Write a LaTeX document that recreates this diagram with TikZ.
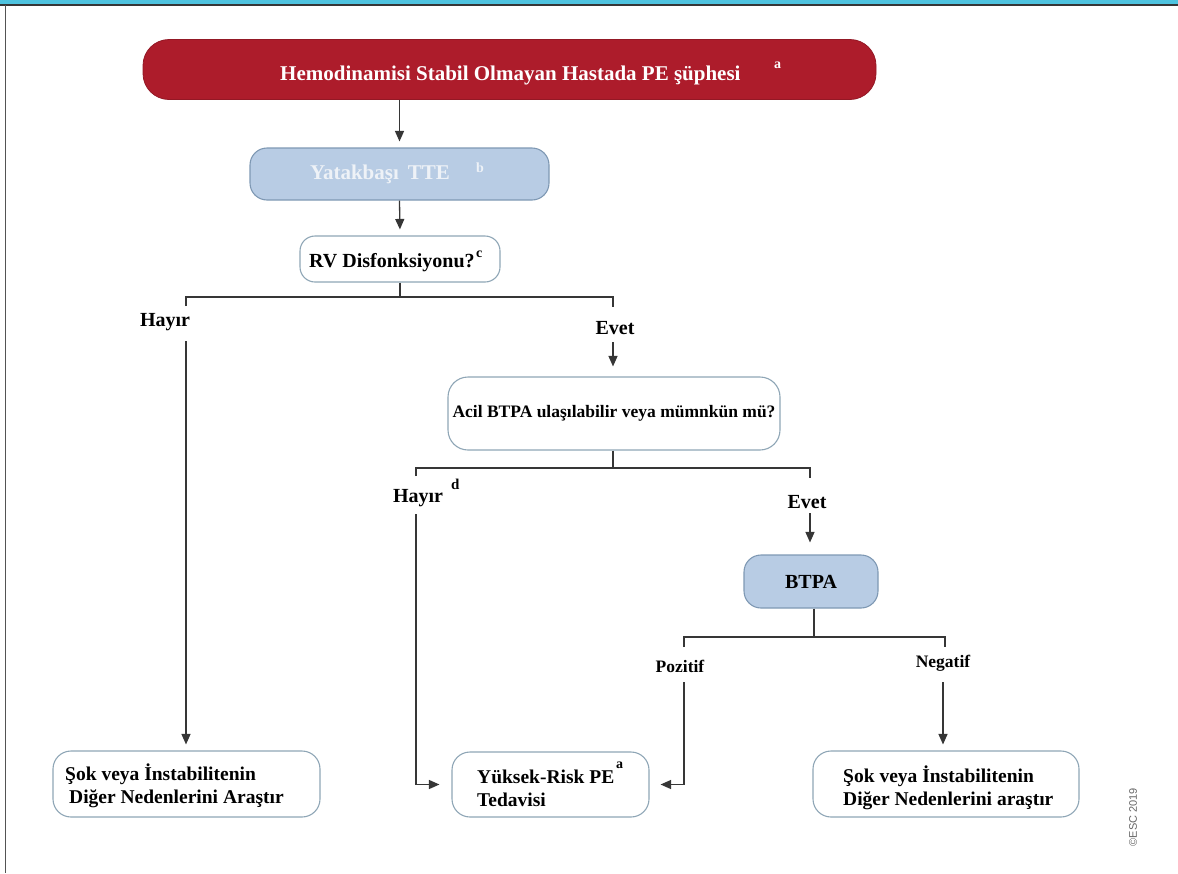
\documentclass[tikz,border=0pt]{standalone}
\usepackage{fontspec}
\setmainfont{LiberationSerif}[Extension=.ttf, UprightFont=*-Regular, BoldFont=*-Bold, ItalicFont=*-Italic, BoldItalicFont=*-BoldItalic]
\newfontfamily\escfont{Liberation Sans}
\usetikzlibrary{arrows.meta}
\definecolor{escred}{HTML}{AD1C2B}
\definecolor{boxblue}{HTML}{B8CCE4}
\definecolor{boxedge}{HTML}{8FA6B6}
\definecolor{blueedge}{HTML}{7E98B3}
\definecolor{barcyan}{HTML}{4EC3DF}
\definecolor{linegray}{HTML}{363636}
\definecolor{ttetext}{HTML}{EEF2F7}

\begin{document}
\begin{tikzpicture}[x=1pt,y=-1pt,
  box/.style={draw=boxedge, line width=1.1pt, fill=white, rounded corners=17pt, inner sep=0pt},
  bluebox/.style={draw=blueedge, line width=1.1pt, fill=boxblue, rounded corners=17pt, inner sep=0pt},
  redbox/.style={fill=escred, draw=escred!85!black, line width=0.8pt, rounded corners=26pt, inner sep=0pt},
  txt/.style={font=\fontsize{20}{24}\selectfont\bfseries, inner sep=0pt, anchor=base west},
  sml/.style={font=\fontsize{17.5}{21}\selectfont\bfseries, inner sep=0pt},
  sup/.style={font=\fontsize{14}{14}\selectfont\bfseries, inner sep=0pt, anchor=base west},
  conn/.style={draw=linegray, line width=1.3pt},
  arr/.style={conn, -{Triangle[length=10.5pt,width=9pt]}}
]
\useasboundingbox (0,0) rectangle (1178,873);

% frame
\fill[barcyan] (0,0) rectangle (1178,4);
\draw[linegray, line width=2pt] (0,5) -- (1178,5);
\draw[linegray!85, line width=1.5pt] (5.5,5) -- (5.5,873);

% boxes
\node[redbox, minimum width=733pt, minimum height=60pt] (title) at (509.5,69.5) {};
\node[bluebox, minimum width=299pt, minimum height=52pt] (tte) at (399.5,174) {};
\node[box, rounded corners=15pt, minimum width=200pt, minimum height=46pt] (rv) at (400,259) {};
\node[box, rounded corners=20pt, minimum width=332pt, minimum height=73pt] (acil) at (614,413.5) {};
\node[bluebox, minimum width=134pt, minimum height=53pt, font=\fontsize{20}{24}\selectfont\bfseries] (btpa) at (811,581.5) {BTPA};
\node[box, rounded corners=18pt, minimum width=267pt, minimum height=66pt] (lbox) at (186.5,784) {};
\node[box, rounded corners=18pt, minimum width=197pt, minimum height=65pt] (mbox) at (550.5,784.5) {};
\node[box, rounded corners=18pt, minimum width=266pt, minimum height=66pt] (rbox) at (946,784) {};

% texts inside boxes
\node[txt, text=white, font=\fontsize{21}{24}\selectfont\bfseries] (titletext) at (280,80) {Hemodinamisi Stabil Olmayan Hastada PE şüphesi};
\node[sup, text=white] (titlesup) at (774,68) {a};
\node[txt, text=ttetext, font=\fontsize{21}{24}\selectfont\bfseries] (ttetext) at (310,179) {Yatakbaşı\hspace{9pt}TTE};
\node[sup, text=ttetext] (ttesup) at (476,172) {b};
\node[txt] (rvtext) at (309,267) {RV Disfonksiyonu?};
\node[sup] (rvsup) at (476,257) {c};
\node[sml] (aciltext) at (614,413) {Acil BTPA ulaşılabilir veya mümnkün mü?};
\node[txt, font=\fontsize{19.5}{24}\selectfont\bfseries] (lboxa) at (65,780) {Şok veya İnstabilitenin};
\node[txt, font=\fontsize{19.5}{24}\selectfont\bfseries] (lboxb) at (69,803) {Diğer Nedenlerini Araştır};
\node[txt, font=\fontsize{19.5}{24}\selectfont\bfseries] (mboxa) at (477,783) {Yüksek-Risk PE};
\node[sup] (mboxsup) at (616,768) {a};
\node[txt, font=\fontsize{19.5}{24}\selectfont\bfseries] (mboxb) at (477,806) {Tedavisi};
\node[txt, font=\fontsize{19.5}{24}\selectfont\bfseries] (rboxa) at (843,782) {Şok veya İnstabilitenin};
\node[txt, font=\fontsize{19.5}{24}\selectfont\bfseries] (rboxb) at (843,805) {Diğer Nedenlerini araştır};

% branch labels
\node[txt, anchor=center] (hayir1) at (165,322) {Hayır};
\node[txt, anchor=center] (evet1) at (615,328) {Evet};
\node[txt, anchor=center] (hayir2) at (418,498) {Hayır};
\node[sup, font=\fontsize{15}{15}\selectfont\bfseries] (hayir2sup) at (451,489) {d};
\node[txt, anchor=center] (evet2) at (807,502) {Evet};
\node[sml] (pozitif) at (680,666) {Pozitif};
\node[sml] (negatif) at (943,663) {Negatif};

% copyright
\node[font=\escfont\fontsize{11}{12}\selectfont, text=black!60, rotate=90, inner sep=0pt] (esc) at (1133,817) {©ESC 2019};

% junction points
\coordinate (j1) at (400,297);
\coordinate (h1l) at (186,297);
\coordinate (h1r) at (613,297);
\coordinate (d1l) at (186,306);
\coordinate (d1r) at (613,307);
\coordinate (s1) at (186,341);
\coordinate (s2) at (613,342);

\coordinate (j2) at (613,468);
\coordinate (h2l) at (416,468);
\coordinate (h2r) at (810,468);
\coordinate (d2l) at (416,476);
\coordinate (d2r) at (810,478);
\coordinate (s3) at (416,514);
\coordinate (c3) at (416,784.5);
\coordinate (s4) at (810,513);

\coordinate (j3) at (814,637);
\coordinate (h3l) at (684,637);
\coordinate (h3r) at (945,637);
\coordinate (d3l) at (684,647);
\coordinate (d3r) at (945,647);
\coordinate (s5) at (684,682);
\coordinate (c5) at (684,784.5);
\coordinate (s6) at (943,682);

% connectors
\draw[arr, shorten >=6pt] (title.south -| tte.north) -- (tte.north);
\draw[arr, shorten >=6pt] (tte.south) -- (rv.north);
\draw[conn] (rv.south) -- (j1);
\draw[conn] (d1l) -- (h1l) -- (h1r) -- (d1r);
\draw[arr, shorten >=6pt] (s1) -- (s1 |- lbox.north);
\draw[arr, shorten >=10pt] (s2) -- (s2 |- acil.north);

\draw[conn] (acil.south -| j2) -- (j2);
\draw[conn] (d2l) -- (h2l) -- (h2r) -- (d2r);
\draw[arr, shorten >=12pt] (s3) -- (c3) -- (mbox.west);
\draw[arr, shorten >=12pt] (s4) -- (s4 |- btpa.north);

\draw[conn] (btpa.south -| j3) -- (j3);
\draw[conn] (d3l) -- (h3l) -- (h3r) -- (d3r);
\draw[arr, shorten >=11pt] (s5) -- (c5) -- (mbox.east);
\draw[arr, shorten >=6pt] (s6) -- (s6 |- rbox.north);
\end{tikzpicture}
\end{document}
